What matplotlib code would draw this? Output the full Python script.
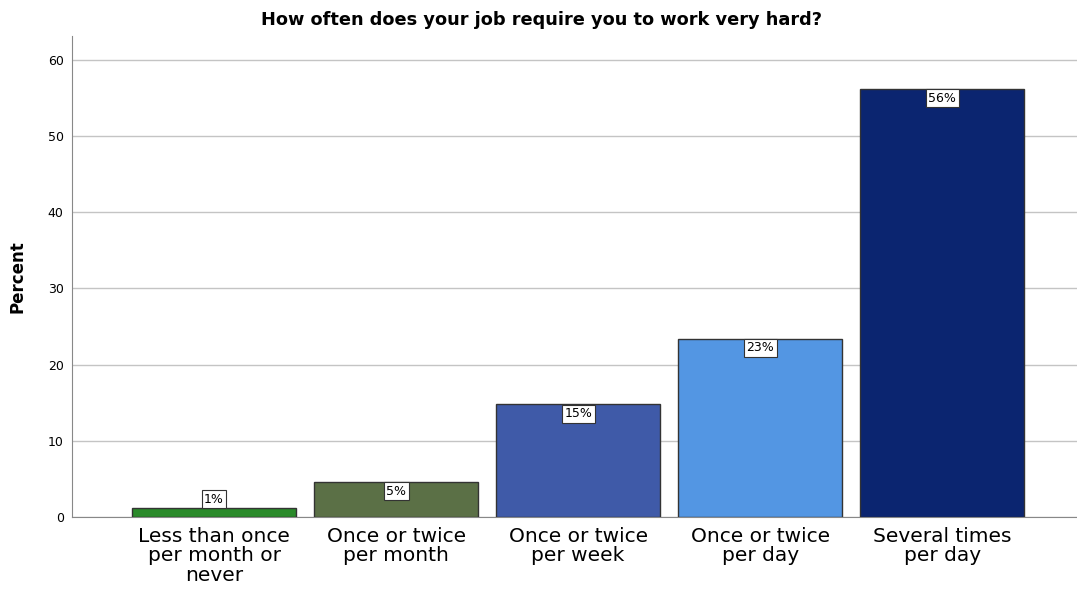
import matplotlib.pyplot as plt

# Survey responses: how often the job requires working very hard
categories = ["Less than once\nper month or\nnever", "Once or twice\nper month",
              "Once or twice\nper week", "Once or twice\nper day",
              "Several times\nper day"]
percents = [1.2, 4.6, 14.8, 23.4, 56.2]
colors = ["#2a8a2a", "#5b7046", "#3f5aa8", "#5396e3", "#0b2570"]
yticks = [0, 10, 20, 30, 40, 50, 60]

fig = plt.figure(figsize=(10.77, 5.9), dpi=100)
ax = fig.add_axes([0.0669, 0.1237, 0.9331, 0.815])

x = range(len(categories))
bars = ax.bar(x, percents, width=0.9, color=colors, edgecolor="#333333",
              linewidth=1.0, zorder=3)

# value labels in white boxes just below the top of each bar
# (above it when the bar is too short to hold the box)
box = dict(boxstyle="square,pad=0.2", fc="white", ec="#333333", lw=0.8)
for b, v in zip(bars, percents):
    cx = b.get_x() + b.get_width() / 2
    if v < 3:
        ax.annotate(f"{v:.0f}%", (cx, v), xytext=(0, 1.5), textcoords="offset points",
                    ha="center", va="bottom", fontsize=9, zorder=5, bbox=box)
    else:
        ax.annotate(f"{v:.0f}%", (cx, v), xytext=(0, -2), textcoords="offset points",
                    ha="center", va="top", fontsize=9, zorder=5, bbox=box)

ax.set_xlim(-0.78, 4.74)
ax.set_ylim(0, 63.1)
ax.set_yticks(yticks)
ax.set_xticks(list(x))
ax.set_xticklabels(categories, fontsize=14.5, linespacing=1.05)
ax.tick_params(axis="y", length=0, labelsize=9, pad=6)
ax.tick_params(axis="x", length=0, pad=7)

ax.grid(axis="y", color="#c4c4c4", linewidth=1.0, zorder=0)
for side in ["top", "right"]:
    ax.spines[side].set_visible(False)
ax.spines["left"].set_color("#888888")
ax.spines["bottom"].set_color("#888888")

ax.set_ylabel("Percent", fontsize=12, fontweight="bold", labelpad=15)
fig.text(0.503, 1 - 20 / 590, "How often does your job require you to work very hard?",
         fontsize=12.8, fontweight="bold", ha="center", va="center")

fig.savefig("out.png", dpi=100)
